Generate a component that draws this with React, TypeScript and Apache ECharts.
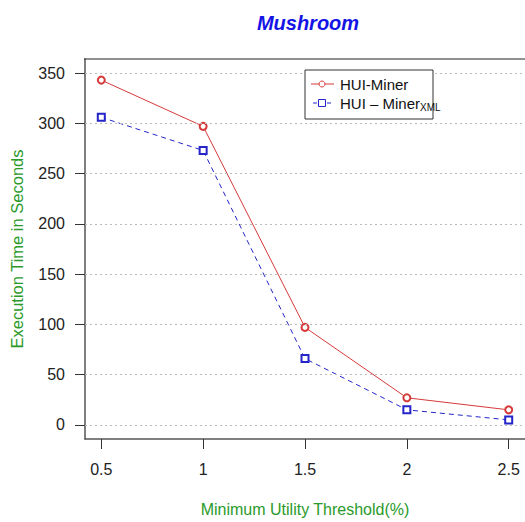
import React, { useEffect, useRef } from "react";
import * as echarts from "echarts";

const thresholds = [0.5, 1, 1.5, 2, 2.5];
const huiMiner = [343, 297, 97, 27, 15];
const huiMinerXml = [306, 273, 66, 15, 5];
const yTicks = [0, 50, 100, 150, 200, 250, 300, 350];
const xTicks = [0.5, 1, 1.5, 2, 2.5];

const FONT = "Liberation Sans, Arial, sans-serif";
const RED = "#d63a3a";
const BLUE = "#2424c8";
const GREEN = "#2a9a2a";

export default function App() {
  const ref = useRef<HTMLDivElement>(null);
  useEffect(() => {
    document.body.style.margin = "0";
    const chart = echarts.init(ref.current!, null, { renderer: "svg" });
    chart.setOption({
      animation: false,
      backgroundColor: "#ffffff",
      title: {
        text: "Mushroom",
        left: 303,
        top: 8,
        textAlign: "center",
        textStyle: { fontFamily: FONT, fontSize: 20, fontWeight: "bold", fontStyle: "italic", color: "#1414e6" },
      },
      grid: { left: 84, top: 59, width: 442, height: 383, show: false },
      xAxis: {
        type: "value",
        min: 0.42,
        max: 2.58,
        name: "Minimum Utility Threshold(%)",
        nameLocation: "middle",
        nameGap: 62,
        nameTextStyle: { fontFamily: FONT, fontSize: 16, color: GREEN },
        axisLine: { show: true, onZero: false, lineStyle: { color: "#555", width: 1.5 } },
        axisTick: { show: true, length: 10, customValues: xTicks, lineStyle: { color: "#333" } },
        axisLabel: {
          customValues: xTicks,
          margin: 22,
          fontFamily: FONT,
          fontSize: 16,
          color: "#222",
          formatter: (v: number) => String(v),
        },
        splitLine: { show: false },
      },
      yAxis: {
        type: "value",
        min: -14,
        max: 364,
        name: "Execution Time in Seconds",
        nameLocation: "middle",
        nameGap: 60,
        nameTextStyle: { fontFamily: FONT, fontSize: 16.5, color: GREEN },
        axisLine: { show: true, onZero: false, lineStyle: { color: "#555", width: 1.5 } },
        axisTick: { show: true, length: 10, customValues: yTicks, lineStyle: { color: "#333" } },
        axisLabel: {
          customValues: yTicks,
          margin: 20,
          fontFamily: FONT,
          fontSize: 16,
          color: "#222",
        },
        splitLine: { show: false },
      },
      series: [
        {
          name: "HUI-Miner",
          type: "line",
          data: thresholds.map((t, i) => [t, huiMiner[i]]),
          symbol: "emptyCircle",
          symbolSize: 7,
          lineStyle: { color: RED, width: 1 },
          itemStyle: { color: RED, borderWidth: 1 },
          markLine: {
            silent: true,
            symbol: "none",
            label: { show: false },
            lineStyle: { color: "#bbb", type: [2, 3], width: 1 },
            data: yTicks.map((v) => ({ yAxis: v })),
          },
          z: 3,
        },
        {
          name: "HUI-MinerXML",
          type: "line",
          data: thresholds.map((t, i) => [t, huiMinerXml[i]]),
          symbol: "emptyRect",
          symbolSize: 7,
          lineStyle: { color: BLUE, width: 1, type: [5, 4] },
          itemStyle: { color: BLUE, borderWidth: 1 },
          z: 3,
        },
      ],
      graphic: [
        { type: "line", shape: { x1: 84, y1: 59, x2: 526, y2: 59 }, style: { stroke: "#222", lineWidth: 1.2 }, z: 5 },
        { type: "rect", shape: { x: 305, y: 70, width: 128, height: 49 }, style: { fill: "#fff", stroke: "#333", lineWidth: 1 }, z: 10 },
        { type: "line", shape: { x1: 311, y1: 84, x2: 334, y2: 84 }, style: { stroke: RED, lineWidth: 1 }, z: 11 },
        { type: "circle", shape: { cx: 322, cy: 84, r: 3 }, style: { fill: "#fff", stroke: RED, lineWidth: 1 }, z: 12 },
        { type: "line", shape: { x1: 313, y1: 103, x2: 334, y2: 103 }, style: { stroke: BLUE, lineWidth: 1, lineDash: [4, 3] }, z: 11 },
        { type: "rect", shape: { x: 318.5, y: 99.5, width: 7, height: 7 }, style: { fill: "#fff", stroke: BLUE, lineWidth: 1 }, z: 12 },
        {
          type: "text",
          x: 340,
          y: 84,
          style: { text: "HUI-Miner", fontFamily: FONT, fontSize: 15, fill: "#111", verticalAlign: "middle" },
          z: 12,
        },
        {
          type: "text",
          x: 340,
          y: 103,
          style: {
            text: "HUI – Miner{sub|XML}",
            fontFamily: FONT,
            fontSize: 15,
            fill: "#111",
            verticalAlign: "middle",
            rich: {
              sub: { fontFamily: FONT, fontSize: 10, fill: "#111", padding: [8, 0, 0, 0] },
            },
          },
          z: 12,
        },
      ],
    });
    return () => chart.dispose();
  }, []);
  return <div ref={ref} style={{ width: 525, height: 522 }} />;
}
